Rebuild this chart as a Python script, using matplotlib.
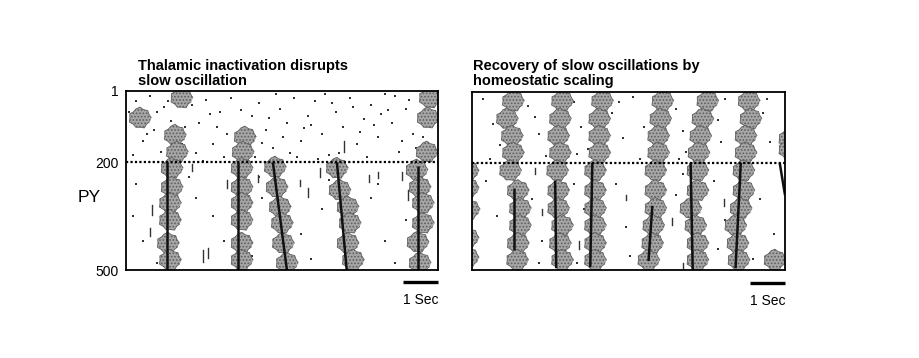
import matplotlib
matplotlib.use("Agg")
import numpy as np
import matplotlib.pyplot as plt

plt.rcParams['font.family'] = ['Liberation Sans', 'DejaVu Sans']
plt.rcParams['hatch.linewidth'] = 0.8

# time in seconds from left edge of each panel, neuron index 1..500
T_MAX = 8.92

# ---- left panel: thalamic inactivation ----
left_blobs_t = [1.59, 1.40, 1.46, 1.31, 1.31, 1.26, 1.26, 1.20, 1.26,
                0.40,
                3.40, 3.34, 3.31, 3.31, 3.31, 3.31, 3.31, 3.31,
                4.26, 4.31, 4.40, 4.46, 4.49, 4.60,
                6.03, 6.11, 6.34, 6.40, 6.34, 6.49,
                8.69, 8.63, 8.60, 8.31, 8.40, 8.49, 8.49, 8.34, 8.40]
left_blobs_n = [20, 124, 171, 216, 269, 313, 361, 425, 472,
                76,
                129, 171, 216, 269, 313, 361, 425, 472,
                213, 269, 324, 369, 425, 480,
                216, 277, 324, 369, 425, 472,
                20, 76, 171, 221, 269, 313, 369, 422, 480]
# dark spike fronts: (t_start, n_start, t_end, n_end)
left_fronts = [(1.17, 200, 1.17, 500), (3.20, 200, 3.20, 500),
               (4.20, 200, 4.60, 500), (6.03, 200, 6.31, 500),
               (8.34, 210, 8.34, 500)]
left_streaks = [(0.74, 319, 347), (0.69, 383, 405), (2.20, 445, 478),
                (2.34, 439, 467), (5.20, 271, 297), (4.97, 249, 266),
                (3.77, 235, 255), (2.89, 249, 271), (7.20, 227, 244),
                (7.89, 227, 249), (8.06, 277, 305), (6.23, 140, 170),
                (6.95, 235, 255), (5.55, 215, 240), (1.90, 205, 225)]
left_dots_t = [0.3, 0.7, 0.9, 1.1, 0.5, 0.2, 0.8, 1.9, 2.1, 2.3, 2.5, 2.7, 2.9, 3.0,
               3.6, 3.8, 4.0, 4.2, 4.4, 4.6, 4.8, 5.0, 5.2, 5.4, 5.6, 5.8, 6.0, 6.2,
               6.4, 6.6, 6.8, 7.0, 7.2, 7.4, 7.6, 7.8, 8.0, 8.2, 1.6, 2.0, 3.7, 4.9,
               5.5, 6.9, 7.9, 0.4, 1.3, 2.6, 3.3, 4.5, 5.9, 7.3, 8.1, 0.1, 1.0, 2.2,
               3.1, 4.1, 5.1, 6.5, 7.1, 7.7, 8.5, 2.8, 3.9, 5.7,
               0.6, 1.2, 2.4, 3.5, 4.3, 5.3, 6.1, 6.7, 7.5, 8.3, 1.7, 4.7,
               0.3, 0.5, 0.9, 2.0, 2.5, 2.8, 3.6, 3.9, 5.0, 5.3, 5.6, 7.0, 7.4, 7.7,
               8.0, 0.2, 1.8, 5.8, 7.2, 3.8]
left_dots_n = [30, 15, 60, 45, 140, 180, 110, 40, 90, 25, 150, 60, 120, 20,
               70, 35, 110, 160, 50, 90, 20, 140, 70, 30, 120, 180, 60, 100,
               20, 150, 80, 40, 130, 10, 90, 170, 50, 120, 150, 175, 185, 185,
               190, 185, 140, 95, 85, 100, 55, 130, 35, 65, 25, 60, 170, 195,
               165, 75, 105, 45, 95, 15, 130, 185, 145, 10,
               120, 30, 65, 150, 10, 95, 175, 115, 55, 160, 100, 175,
               260, 420, 480, 300, 350, 420, 460, 300, 400, 470, 330, 300, 420, 480,
               360, 350, 240, 250, 260, 240]

# ---- right panel: homeostatic scaling ----
right_blobs_t = [1.17, 1.00, 1.14, 1.17, 1.09, 1.31, 1.37, 1.37, 1.31, 1.29,
                 2.57, 2.51, 2.46, 2.51, 2.43, 2.46, 2.46, 2.57, 2.51, 2.57,
                 3.71, 3.63, 3.63, 3.63, 3.51, 3.51, 3.51, 3.51, 3.51, 3.51,
                 5.43, 5.37, 5.31, 5.31, 5.23, 5.23, 5.23, 5.17, 5.14, 5.03,
                 6.71, 6.57, 6.51, 6.46, 6.43, 6.43, 6.23, 6.37, 6.43, 6.43,
                 7.89, 7.94, 7.80, 7.80, 7.74, 7.74, 7.66, 7.51, 7.57, 7.60,
                 9.05, 9.05, 8.63,
                 -0.12, -0.12, -0.09, -0.12, -0.12]
right_blobs_n = [26, 76, 124, 171, 221, 277, 327, 375, 425, 472,
                 26, 76, 124, 171, 221, 277, 327, 375, 425, 472,
                 26, 76, 124, 171, 221, 277, 327, 375, 425, 472,
                 26, 76, 124, 171, 221, 277, 327, 375, 425, 472,
                 26, 76, 124, 171, 221, 277, 327, 375, 425, 472,
                 26, 76, 124, 171, 221, 277, 327, 375, 425, 472,
                 132, 162, 472,
                 222, 270, 330, 410, 465]
right_fronts = [(1.20, 270, 1.20, 445), (2.37, 249, 2.40, 495),
                (3.43, 200, 3.37, 492), (5.14, 320, 5.03, 475),
                (6.23, 200, 6.29, 500), (7.66, 200, 7.51, 495),
                (8.77, 200, 8.92, 290)]
right_streaks = [(3.43, 249, 277), (1.80, 215, 232), (5.71, 355, 375),
                 (7.17, 300, 320), (4.40, 290, 305), (2.00, 330, 345),
                 (6.00, 480, 495), (3.05, 420, 440)]
right_dots_t = [0.3, 0.6, 0.8, 1.6, 1.9, 2.1, 2.9, 3.1, 3.3, 4.0, 4.3, 4.6, 4.8,
                5.8, 6.0, 6.1, 7.0, 7.2, 8.3, 8.5, 0.5, 1.8, 3.0, 4.2, 4.9, 5.9,
                7.1, 8.4, 0.4, 1.7, 2.9, 4.4, 6.0, 7.2, 8.2, 2.0, 3.2, 4.5, 5.8,
                7.0, 8.6, 1.9, 4.1, 6.9, 0.7, 3.0, 8.0]
right_dots_n = [20, 90, 150, 40, 120, 180, 30, 100, 160, 60, 130, 15, 190,
                50, 110, 170, 80, 20, 60, 140, 190, 70, 175, 30, 100, 190,
                140, 20, 250, 300, 260, 380, 230, 360, 300, 420, 330, 460, 290,
                440, 400, 480, 260, 250, 350, 480, 470]

SCALE_BAR_S = 1.0

# ragged outline for the burst blobs
blob_r = [1.0, 0.86, 0.96, 0.82, 1.0, 0.9, 0.8, 0.97, 0.88, 1.0, 0.83, 0.94,
          0.86, 1.0, 0.81, 0.92]
ang = np.linspace(0, 2 * np.pi, len(blob_r), endpoint=False)
blob_marker = np.column_stack([np.array(blob_r) * np.cos(ang),
                               np.array(blob_r) * np.sin(ang) * 0.95])


def draw_panel(ax, bt, bn, fronts, streaks, dt, dn, ylabels):
    ax.scatter(dt, dn, s=2.5, c='#333333', marker='s', linewidths=0, zorder=1)
    for t, n0, n1 in streaks:
        ax.plot([t, t], [n0, n1], color='#333333', lw=1.0, zorder=1)
    blobs = ax.scatter(bt, bn, s=270, marker=blob_marker, facecolor='#a6a6a6',
                       edgecolor='#5e5e5e', linewidths=0.6, zorder=2)
    blobs.set_hatch('.....')
    for t0, n0, t1, n1 in fronts:
        ax.plot([t0, t1], [n0, n1], color='#111111', lw=1.8,
                solid_capstyle='butt', zorder=3)
    ax.axhline(200, color='black', lw=1.6, linestyle=(0, (1, 1)), zorder=4)
    ax.set_xlim(0, T_MAX)
    ax.set_ylim(500, 1)
    ax.set_xticks([])
    if ylabels:
        ax.set_yticks([1, 200, 500])
        ax.set_yticklabels(['1', '200', '500'], fontsize=10)
        ax.tick_params(axis='y', length=0, pad=5)
    else:
        ax.set_yticks([])
    for s in ax.spines.values():
        s.set_linewidth(1.3)
        s.set_color('black')
        s.set_zorder(5)


fig = plt.figure(figsize=(9.2, 3.58), dpi=100)
ax1 = fig.add_axes([126 / 920, 1 - 270 / 358, 312 / 920, 179 / 358])
ax2 = fig.add_axes([472 / 920, 1 - 270 / 358, 313 / 920, 178 / 358])

draw_panel(ax1, left_blobs_t, left_blobs_n, left_fronts, left_streaks,
           left_dots_t, left_dots_n, True)
draw_panel(ax2, right_blobs_t, right_blobs_n, right_fronts, right_streaks,
           right_dots_t, right_dots_n, False)

# scale bars
for ax, ybar, ytxt in [(ax1, 533, 584), (ax2, 536, 587)]:
    ax.plot([T_MAX - SCALE_BAR_S, T_MAX], [ybar, ybar], color='black', lw=2.4,
            solid_capstyle='butt', clip_on=False)
    ax.text(T_MAX - SCALE_BAR_S / 2, ytxt, '1 Sec', ha='center', va='center',
            fontsize=10)

fig.text(138 / 920, 1 - 85 / 358, 'Thalamic inactivation disrupts\nslow oscillation',
         ha='left', va='baseline', fontsize=10.5, fontweight='bold', linespacing=1.1)
fig.text(473 / 920, 1 - 85 / 358, 'Recovery of slow oscillations by\nhomeostatic scaling',
         ha='left', va='baseline', fontsize=10.5, fontweight='bold', linespacing=1.1)
fig.text(89 / 920, 1 - 198 / 358, 'PY', ha='center', va='center', fontsize=12.5)

fig.savefig('out.png', dpi=100)
